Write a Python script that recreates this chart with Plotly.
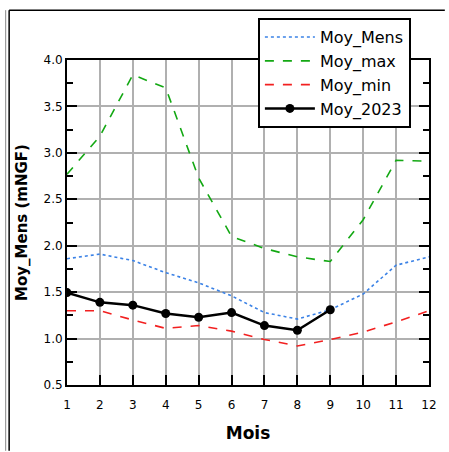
import plotly.graph_objects as go

mois = list(range(1, 13))
moy_mens = [1.86, 1.91, 1.84, 1.71, 1.60, 1.46, 1.28, 1.21, 1.31, 1.48, 1.79, 1.88]
moy_max = [2.77, 3.18, 3.84, 3.70, 2.73, 2.10, 1.97, 1.88, 1.83, 2.28, 2.92, 2.91]
moy_min = [1.30, 1.30, 1.20, 1.11, 1.14, 1.08, 0.99, 0.92, 0.99, 1.07, 1.18, 1.30]
mois_2023 = list(range(1, 10))
moy_2023 = [1.495, 1.39, 1.36, 1.27, 1.23, 1.28, 1.14, 1.09, 1.31]

fig = go.Figure()
fig.add_trace(go.Scatter(x=mois, y=moy_mens, mode="lines", name="Moy_Mens",
                         line=dict(color="#3b82e6", width=1.6, dash="dot")))
fig.add_trace(go.Scatter(x=mois, y=moy_max, mode="lines", name="Moy_max",
                         line=dict(color="#13a813", width=1.6, dash="dash")))
fig.add_trace(go.Scatter(x=mois, y=moy_min, mode="lines", name="Moy_min",
                         line=dict(color="#f22020", width=1.6, dash="dash")))
fig.add_trace(go.Scatter(x=mois_2023, y=moy_2023, mode="lines+markers", name="Moy_2023",
                         line=dict(color="black", width=2.5),
                         marker=dict(color="black", size=9)))

W, H = 449, 452
L, R, T, B = 67, 16, 60, 66
pw, ph = W - L - R, H - T - B

def px_x(p):
    return (p - L) / pw

def px_y(p):
    return (H - B - p) / ph

font_main = "DejaVu Sans"
fig.update_layout(
    width=W, height=H,
    margin=dict(l=L, r=R, t=T, b=B),
    paper_bgcolor="white", plot_bgcolor="white",
    font=dict(family=font_main, size=12, color="black"),
    showlegend=True,
    legend=dict(x=px_x(260), y=px_y(18), xanchor="left", yanchor="top",
                bgcolor="white", bordercolor="black", borderwidth=2,
                font=dict(size=16, family=font_main), itemwidth=50,
                tracegroupgap=0),
    xaxis=dict(range=[1, 12], tickvals=mois, showgrid=True, gridcolor="#b0b0b0", gridwidth=1.5,
               showline=True, linecolor="black", linewidth=2, mirror=True,
               ticks="inside", ticklen=10, tickwidth=2, tickcolor="black",
               ticklabelstandoff=8,
               zeroline=False,
               title=dict(text="<b>Mois</b>", font=dict(size=17), standoff=16)),
    yaxis=dict(range=[0.5, 4.0], dtick=0.5, tickformat=".1f", showgrid=True,
               gridcolor="#b0b0b0", gridwidth=1.5,
               showline=True, linecolor="black", linewidth=2, mirror="ticks",
               ticks="inside", ticklen=10, tickwidth=2, tickcolor="black",
               minor=dict(dtick=0.25, ticks="inside", ticklen=6, tickwidth=1.5,
                          tickcolor="black", showgrid=False),
               zeroline=False,
               title=dict(text="<b>Moy_Mens (mNGF)</b>", font=dict(size=15), standoff=12)),
    shapes=[
        dict(type="line", xref="paper", yref="paper", x0=px_x(5), x1=px_x(5),
             y0=px_y(10), y1=px_y(452), line=dict(color="#888888", width=1)),
        dict(type="line", xref="paper", yref="paper", x0=px_x(8.5), x1=px_x(8.5),
             y0=px_y(10), y1=px_y(452), line=dict(color="black", width=1.5)),
        dict(type="line", xref="paper", yref="paper", x0=px_x(8.5), x1=px_x(449),
             y0=px_y(10), y1=px_y(10), line=dict(color="black", width=1.5)),
    ],
)

fig.write_html("out.html", config={"displayModeBar": False},
               post_script="document.body.style.margin='0';document.body.style.overflow='hidden';")
